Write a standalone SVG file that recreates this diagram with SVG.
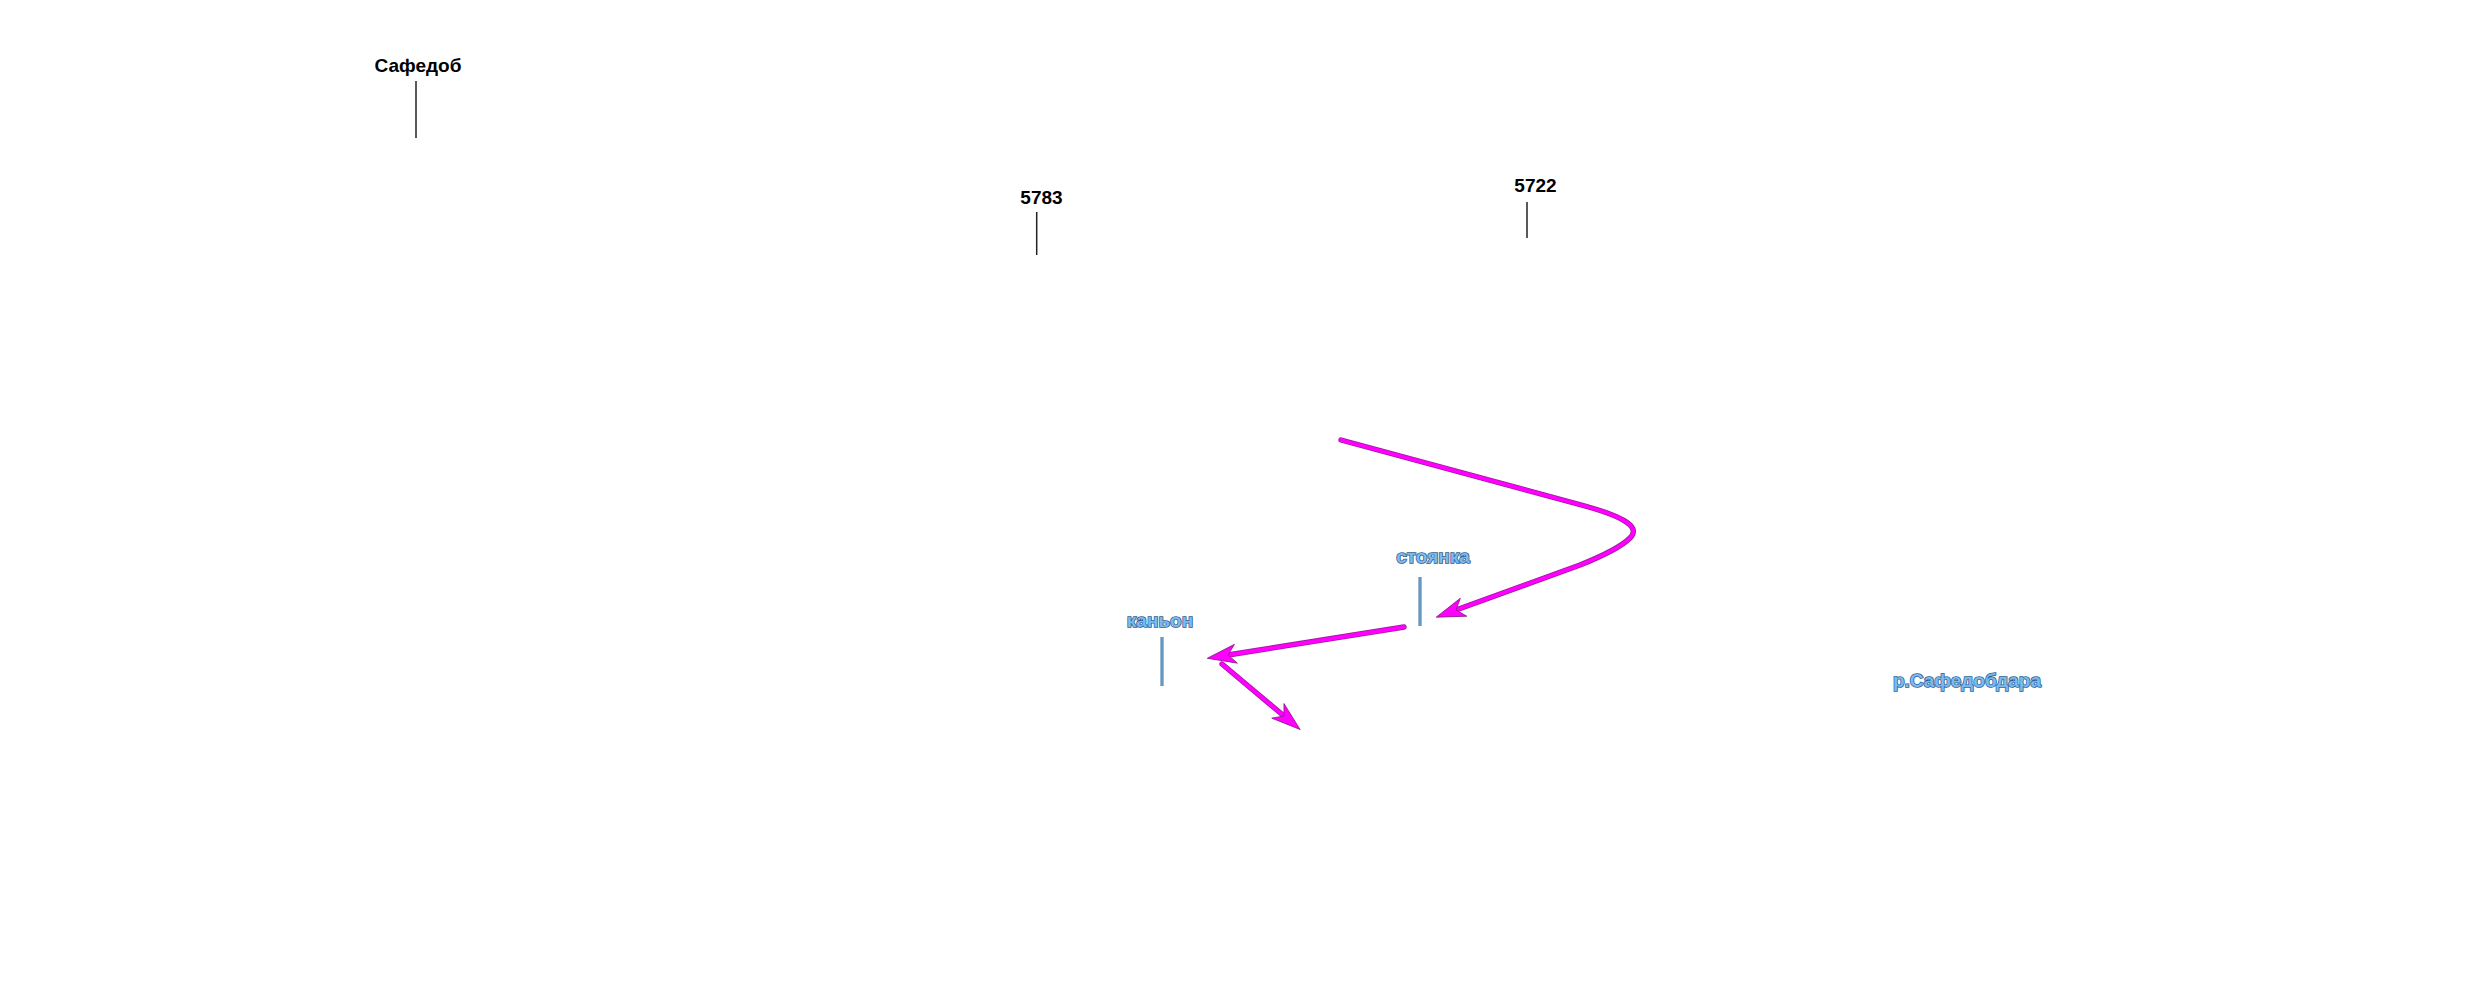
<svg xmlns="http://www.w3.org/2000/svg" width="2474" height="1000" viewBox="0 0 2474 1000">
  <style>
    .lbl { font-family: "Liberation Sans", Arial, sans-serif; font-size: 19px; font-weight: bold; fill: #000; text-anchor: middle; }
    .tick { stroke: #222; stroke-width: 1.5; fill: none; }
    .blbl { font-family: "Liberation Sans", Arial, sans-serif; font-size: 19px; font-weight: bold; fill: #7cb9ee; stroke: #2f5f8f; stroke-width: 1.5; paint-order: stroke; text-anchor: middle; }
    .btick-o { stroke: #3a6f9e; stroke-width: 3; fill: none; }
    .btick-i { stroke: #8cc4ee; stroke-width: 1; fill: none; }
    .route-o { stroke: #9a1d9a; stroke-width: 5.4; fill: none; stroke-linecap: round; stroke-linejoin: round; }
    .route { stroke: #ff00ff; stroke-width: 3.8; fill: none; stroke-linecap: round; stroke-linejoin: round; }
  </style>
  <defs>
    <marker id="ah" markerUnits="userSpaceOnUse" orient="auto" overflow="visible" markerWidth="40" markerHeight="40" refX="0" refY="0">
      <path d="M21,0 L-8,-9.5 L0,0 L-8,9.5 Z" fill="#ff00ff" stroke="#8a1a8a" stroke-width="0.8" stroke-linejoin="round"/>
    </marker>
  </defs>
  <rect x="0" y="0" width="2474" height="1000" fill="#fff"/>

  <g id="node-safedob">
    <text class="lbl" x="418" y="72">Сафедоб</text>
    <line class="tick" x1="416" y1="81" x2="416" y2="138"/>
  </g>
  <g id="node-5783">
    <text class="lbl" x="1041.5" y="204">5783</text>
    <line class="tick" x1="1036.7" y1="212" x2="1036.7" y2="255"/>
  </g>
  <g id="node-5722">
    <text class="lbl" x="1535.5" y="192">5722</text>
    <line class="tick" x1="1527" y1="202" x2="1527" y2="238"/>
  </g>
  <g id="node-stoyanka">
    <text class="blbl" x="1433" y="563">стоянка</text>
    <line class="btick-o" x1="1420" y1="577" x2="1420" y2="626"/>
    <line class="btick-i" x1="1420" y1="577" x2="1420" y2="626"/>
  </g>
  <g id="node-kanyon">
    <text class="blbl" x="1160" y="627">каньон</text>
    <line class="btick-o" x1="1162" y1="637" x2="1162" y2="686"/>
    <line class="btick-i" x1="1162" y1="637" x2="1162" y2="686"/>
  </g>
  <g id="node-river">
    <text class="blbl" x="1967" y="687">р.Сафедобдара</text>
  </g>

  <g id="connectors">
    <path class="route-o" d="M1341,440 L1585,506 C1628,518 1640,528 1630,538 C1620,548 1600,557 1580,565 L1456,610"/>
    <path class="route-o" d="M1404,627 L1228,655"/>
    <path class="route-o" d="M1222,664 L1284,716"/>
    <path class="route" d="M1341,440 L1585,506 C1628,518 1640,528 1630,538 C1620,548 1600,557 1580,565 L1456,610" marker-end="url(#ah)"/>
    <path class="route" d="M1404,627 L1228,655" marker-end="url(#ah)"/>
    <path class="route" d="M1222,664 L1284,716" marker-end="url(#ah)"/>
  </g>
</svg>
